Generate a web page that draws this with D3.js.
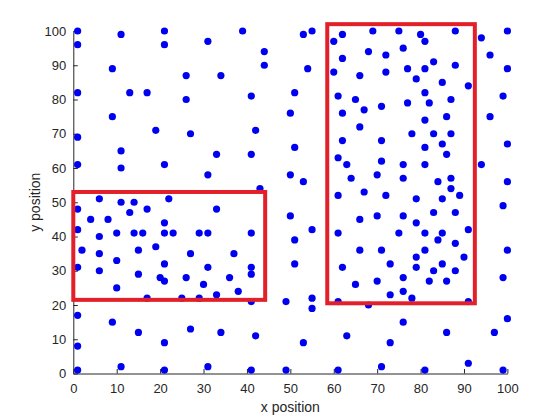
<!DOCTYPE html>
<html>
<head>
<meta charset="utf-8">
<script src="https://cdn.jsdelivr.net/npm/d3@7"></script>
<style>
  body { margin: 0; background: #fff; }
  svg text { font-family: "Liberation Sans", Arial, sans-serif; fill: #262626; }
</style>
</head>
<body>
<svg id="chart"></svg>
<script>
// point x positions
const xPos = [
  1, 1, 11, 21, 21, 9, 26, 1, 13, 17, 26, 9, 19, 1, 11, 1, 11, 21,
  39, 31, 44, 44, 34, 53, 41, 51, 50, 27, 42, 51, 33, 41, 31, 50, 53, 43,
  55, 54, 62, 60, 69, 75, 76, 68, 72, 62, 60, 66, 72, 77, 61, 65, 62, 67,
  71, 77, 66, 62, 71, 61, 63, 71, 76, 64, 70, 76, 61, 67, 72,
  80, 81, 88, 81, 83, 88, 79, 85, 91, 81, 82, 87, 81, 86, 78, 83, 87, 81,
  85, 86, 81, 84, 87, 87, 89, 79, 85, 94, 100, 96, 100, 99, 96, 100, 94, 100,
  6, 1, 11, 14, 13, 17, 22, 4, 8, 21, 1, 6, 10, 14, 16, 21, 23, 2, 6, 15,
  19, 10, 1, 21, 6, 15, 20, 21, 26, 10, 17, 25, 1, 9, 15, 1, 21, 1, 11, 21,
  33, 29, 31, 41, 27, 37, 31, 41, 41, 36, 30, 38, 29, 33, 41, 50, 51, 51,
  49, 27, 34, 42, 31, 41, 49, 53,
  55, 55, 55, 61, 63, 71, 73, 76, 68, 61, 66, 70, 76, 61, 75, 66, 71, 62,
  73, 76, 65, 70, 73, 76,
  83, 88, 79, 81, 85, 91, 84, 88, 81, 79, 90, 79, 85, 83, 88, 82, 86, 78,
  91, 99, 100, 99, 100, 97, 99, 86, 81, 91
]
// point y positions
const yPos = [
  100, 96, 99, 100, 96, 89, 87, 82, 82, 82, 80, 75, 71, 69, 65, 61, 60, 61,
  100, 97, 94, 90, 87, 99, 81, 82, 76, 70, 71, 66, 64, 64, 58, 58, 56, 54,
  100, 89, 99, 97, 100, 100, 95, 94, 93, 92, 88, 87, 88, 89, 81, 80, 76, 77,
  78, 79, 72, 68, 68, 63, 61, 62, 61, 57, 58, 57, 52, 53, 52,
  99, 97, 100, 89, 91, 90, 86, 85, 84, 82, 79, 80, 74, 75, 70, 70, 70, 66,
  67, 64, 61, 56, 57, 54, 52, 51, 51, 98, 100, 93, 89, 81, 75, 67, 61, 56,
  51, 48, 50, 50, 47, 48, 51, 45, 45, 44, 42, 40, 41, 41, 41, 41, 41, 36, 35, 36,
  37, 33, 31, 32, 30, 29, 28, 27, 28, 25, 22, 22, 17, 15, 12, 8, 9, 1, 2, 1,
  48, 41, 41, 41, 35, 35, 31, 31, 29, 28, 26, 24, 22, 23, 21, 46, 39, 32,
  21, 13, 12, 11, 2, 1, 1, 9,
  42, 22, 19, 1, 11, 2, 9, 15, 20, 21, 45, 46, 46, 41, 41, 36, 36, 31,
  32, 28, 26, 27, 23, 24,
  47, 47, 44, 41, 41, 42, 39, 38, 36, 34, 34, 31, 32, 30, 30, 27, 27, 22,
  21, 49, 36, 28, 16, 12, 1, 12, 1, 3
]
// highlight boxes: [x0, x1, y0, y1]
const boxLeft = [0, 44.2, 21.5, 53]
const boxRight = [58.5, 92.5, 20.5, 102]

const xTicks = d3.range(0, 101, 10)
const yTicks = d3.range(0, 101, 10)

const W = 560
const H = 420

const svg = d3.select('#chart').attr('width', W).attr('height', H)

const x = d3.scaleLinear().domain([0, 100]).range([73.3, 507.4])
const y = d3.scaleLinear().domain([0, 100]).range([373.5, 31])

// axes, ticks point inwards like matlab
const xAxis = d3.axisBottom(x).tickValues(xTicks).tickSizeInner(-4.5).tickSizeOuter(0).tickPadding(10)
const yAxis = d3.axisLeft(y).tickValues(yTicks).tickSizeInner(-4.5).tickSizeOuter(0).tickPadding(7)

const gx = svg.append('g').attr('transform', `translate(0,${y(0)})`).call(xAxis)
const gy = svg.append('g').attr('transform', `translate(${x(0)},0)`).call(yAxis)

;[gx, gy].forEach(g => {
  g.selectAll('path').attr('stroke', '#262626').attr('stroke-width', 1)
  g.selectAll('line').attr('stroke', '#262626')
  g.selectAll('text').attr('font-size', 13).attr('fill', '#262626')
})

// points
svg.append('g').selectAll('circle')
  .data(xPos.map((d, i) => [d, yPos[i]]))
  .enter().append('circle')
  .attr('cx', d => x(d[0]))
  .attr('cy', d => y(d[1]))
  .attr('r', 3.6)
  .attr('fill', '#0000f0')

// red boxes on top
svg.append('g').selectAll('rect')
  .data([boxLeft, boxRight])
  .enter().append('rect')
  .attr('x', d => x(d[0]))
  .attr('y', d => y(d[3]))
  .attr('width', d => x(d[1]) - x(d[0]))
  .attr('height', d => y(d[2]) - y(d[3]))
  .attr('fill', 'none')
  .attr('stroke', '#e3202a')
  .attr('stroke-width', 4)

// axis labels
svg.append('text')
  .attr('x', x(50))
  .attr('y', 412)
  .attr('text-anchor', 'middle')
  .attr('font-size', 14)
  .text('x position')

svg.append('text')
  .attr('transform', `translate(40,${y(50)}) rotate(-90)`)
  .attr('text-anchor', 'middle')
  .attr('font-size', 14)
  .text('y position')
</script>
</body>
</html>
